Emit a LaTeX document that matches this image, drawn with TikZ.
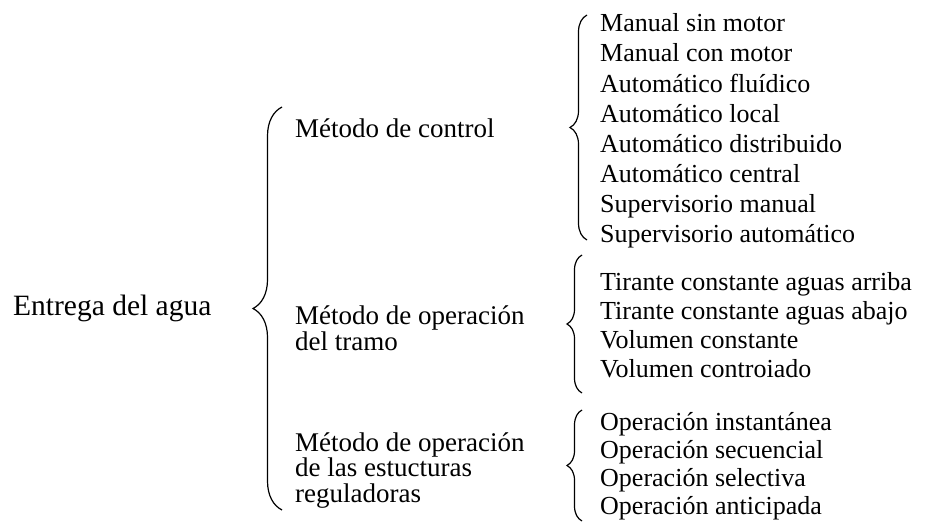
\documentclass[tikz,border=0pt]{standalone}
\usepackage{fontspec}
\setmainfont{Liberation Serif}
\usetikzlibrary{positioning,decorations.pathreplacing}

\tikzset{
  root/.style={anchor=base west, inner sep=0pt, font=\fontsize{29.5}{32}\selectfont},
  method/.style={anchor=base west, inner sep=0pt, align=left, font=\fontsize{27}{25.5}\selectfont},
  item/.style={anchor=base west, inner sep=0pt, font=\fontsize{26}{30}\selectfont},
  under/.style={below=#1, anchor=base west},
  brace/.style={decorate, decoration={brace, amplitude=#1}, line width=1.2pt},
}

\begin{document}
\begin{tikzpicture}[x=1pt, y=-1pt]
    \useasboundingbox (0,0) rectangle (933,527);

    \node[root]   (ent) at (13,315)  {Entrega del agua};
    \node[method] (ctl) at (295,137) {Método de control};
    \node[method] (tra) at (295,350) {Método de operación\\del tramo};
    \node[method] (est) at (295,502) {Método de operación\\de las estucturas\\reguladoras};

    \node[item] (c1) at (600,32) {Manual sin motor};
    \node[item, under=30pt of c1.base west] (c2) {Manual con motor};
    \node[item, under=30pt of c2.base west] (c3) {Automático fluídico};
    \node[item, under=30pt of c3.base west] (c4) {Automático local};
    \node[item, under=30pt of c4.base west] (c5) {Automático distribuido};
    \node[item, under=30pt of c5.base west] (c6) {Automático central};
    \node[item, under=30pt of c6.base west] (c7) {Supervisorio manual};
    \node[item, under=30pt of c7.base west] (c8) {Supervisorio automático};

    \node[item] (t1) at (600,290) {Tirante constante aguas arriba};
    \node[item, under=29.3pt of t1.base west] (t2) {Tirante constante aguas abajo};
    \node[item, under=29.3pt of t2.base west] (t3) {Volumen constante};
    \node[item, under=29.3pt of t3.base west] (t4) {Volumen controiado};

    \node[item] (o1) at (600,430) {Operación instantánea};
    \node[item, under=28.3pt of o1.base west] (o2) {Operación secuencial};
    \node[item, under=28.3pt of o2.base west] (o3) {Operación selectiva};
    \node[item, under=28.3pt of o3.base west] (o4) {Operación anticipada};

    % braces
    \coordinate (b0t) at (282,107);
    \coordinate (b0b) at (282,510);
    \coordinate (b1t) at (587,15);
    \coordinate (b1b) at (587,240);
    \coordinate (b2t) at (582,255);
    \coordinate (b2b) at (582,393);
    \coordinate (b3t) at (582,410);
    \coordinate (b3b) at (582,521);

    \draw[brace=29] (b0b) -- (b0t);
    \draw[brace=17] (b1b) -- (b1t);
    \draw[brace=15] (b2b) -- (b2t);
    \draw[brace=15] (b3b) -- (b3t);
  \end{tikzpicture}
\end{document}
